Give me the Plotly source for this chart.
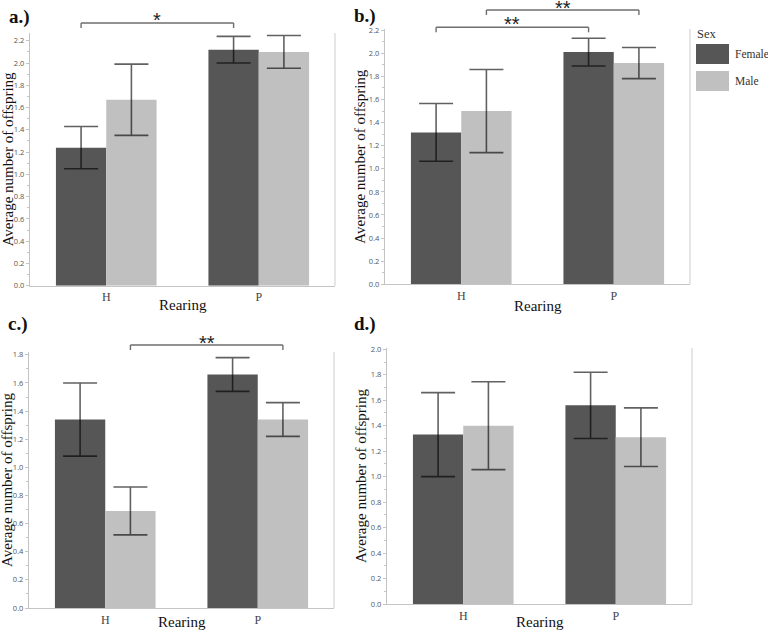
import plotly.graph_objects as go

# ---------------- data ----------------
rearing = ["H", "P"]
sex_labels = ["Female", "Male"]

a_female = [1.24, 2.12]
a_female_err = [0.19, 0.12]
a_male = [1.67, 2.10]
a_male_err = [0.32, 0.147]

b_female = [1.315, 2.01]
b_female_err = [0.25, 0.12]
b_male = [1.50, 1.915]
b_male_err = [0.36, 0.135]

c_female = [1.34, 1.66]
c_female_err = [0.26, 0.12]
c_male = [0.69, 1.34]
c_male_err = [0.17, 0.12]

d_female = [1.33, 1.56]
d_female_err = [0.33, 0.26]
d_male = [1.40, 1.31]
d_male_err = [0.345, 0.23]

panel_names = ["a.)", "b.)", "c.)", "d.)"]
y_title = "Average number of offspring"
x_title = "Rearing"
y_tops = [2.27, 2.21, 1.82, 2.01]
y_tickvals = [
    [0.0, 0.2, 0.4, 0.6, 0.8, 1.0, 1.2, 1.4, 1.6, 1.8, 2.0, 2.2],
    [0.0, 0.2, 0.4, 0.6, 0.8, 1.0, 1.2, 1.4, 1.6, 1.8, 2.0, 2.2],
    [0.0, 0.2, 0.4, 0.6, 0.8, 1.0, 1.2, 1.4, 1.6, 1.8],
    [0.0, 0.2, 0.4, 0.6, 0.8, 1.0, 1.2, 1.4, 1.6, 1.8, 2.0],
]

# ---------------- style ----------------
W, H = 768, 631
FEMALE_C = "#565656"
MALE_C = "#c0c0c0"
ERR_C = "rgba(0,0,0,0.62)"
AXIS_C = "#c4c4c4"
SERIF = "Liberation Serif, Times New Roman, serif"
SANS = "Open Sans, DejaVu Sans, sans-serif"

# plot-area pixel boxes: (left, right, top, bottom)
boxes = [
    (30, 335, 33, 285.7),
    (385, 690, 29, 284.3),
    (29, 334, 352, 608),
    (387, 692, 348, 604),
]
ytitle_x = [8, 360, 7, 361]
xtitle_y = [305, 306, 622, 622]
label_pos = [(7, 17), (352, 16), (6, 324), (352, 324)]

def px_x(p):
    return p / W

def px_y(p):
    return 1 - p / H

series = [
    (a_female, a_female_err, a_male, a_male_err),
    (b_female, b_female_err, b_male, b_male_err),
    (c_female, c_female_err, c_male, c_male_err),
    (d_female, d_female_err, d_male, d_male_err),
]

fig = go.Figure()
layout = dict(
    width=W, height=H,
    margin=dict(l=0, r=0, t=0, b=0, autoexpand=False),
    paper_bgcolor="white", plot_bgcolor="white",
    barmode="group", bargap=0.34, bargroupgap=0,
    showlegend=False,
)
shapes = []
annotations = []

for i, (fv, fe, mv, me) in enumerate(series):
    n = "" if i == 0 else str(i + 1)
    xa, ya = "x" + n, "y" + n
    fig.add_trace(go.Bar(
        x=rearing, y=fv, name=sex_labels[0], xaxis=xa, yaxis=ya,
        marker=dict(color=FEMALE_C, line=dict(width=0)),
        error_y=dict(type="data", array=fe, visible=True, color=ERR_C, thickness=1.6, width=17),
        offsetgroup="f",
    ))
    fig.add_trace(go.Bar(
        x=rearing, y=mv, name=sex_labels[1], xaxis=xa, yaxis=ya,
        marker=dict(color=MALE_C, line=dict(width=0)),
        error_y=dict(type="data", array=me, visible=True, color=ERR_C, thickness=1.6, width=17),
        offsetgroup="m",
    ))
    l, r, t, b = boxes[i]
    layout["xaxis" + n] = dict(
        domain=[px_x(l), px_x(r)], anchor=ya, type="category", automargin=False,
        range=[-0.5, 1.5], showline=True, linecolor=AXIS_C, linewidth=1.2,
        ticks="", showgrid=False, zeroline=False,
        tickfont=dict(family=SERIF, size=12, color="#444"),
    )
    layout["yaxis" + n] = dict(
        domain=[px_y(b), px_y(t)], anchor=xa, range=[0, y_tops[i]], automargin=False,
        tickvals=y_tickvals[i], ticktext=["%.1f" % v for v in y_tickvals[i]],
        showline=True, linecolor=AXIS_C, linewidth=1.2,
        ticks="outside", ticklen=3, tickcolor=AXIS_C, tickwidth=1,
        minor=dict(dtick=0.1, ticks="outside", ticklen=2, tickcolor=AXIS_C),
        showgrid=False, zeroline=False,
        tickfont=dict(family=SANS, size=7.5, color="#555"),
    )
    # right frame line
    shapes.append(dict(type="line", xref=xa + " domain", yref=ya + " domain",
                       x0=1, x1=1, y0=0, y1=1, line=dict(color="#d6d6d6", width=1.2)))
    # axis titles
    annotations.append(dict(text=y_title, xref="paper", yref="paper", textangle=-90,
                            x=px_x(ytitle_x[i]), y=px_y((t + b) / 2), xanchor="center", yanchor="middle",
                            showarrow=False, font=dict(family=SERIF, size=15, color="#111")))
    annotations.append(dict(text=x_title, xref="paper", yref="paper",
                            x=px_x((l + r) / 2), y=px_y(xtitle_y[i]), xanchor="center", yanchor="middle",
                            showarrow=False, font=dict(family=SERIF, size=15, color="#111")))
    # panel label
    lx, ly = label_pos[i]
    annotations.append(dict(text="<b>%s</b>" % panel_names[i], xref="paper", yref="paper",
                            x=px_x(lx), y=px_y(ly), xanchor="left", yanchor="middle",
                            showarrow=False, font=dict(family=SERIF, size=19, color="#111")))

# significance brackets: (panel index, x0 (category pos), x1, line y px, label y px, label)
OFF = 0.165
brackets = [
    (0, 0 - OFF, 1 - OFF, 23, 20, "*"),
    (1, 0 - OFF, 1 - OFF, 27.3, 24, "**"),
    (1, 0 + OFF, 1 + OFF, 10, 8, "**"),
    (2, 0 + OFF, 1 + OFF, 345, 343, "**"),
]
for pi, x0, x1, ypx, lypx, lab in brackets:
    n = "" if pi == 0 else str(pi + 1)
    xa = "x" + n
    col = "#6e6e6e"
    shapes.append(dict(type="line", xref=xa, yref="paper", x0=x0, x1=x1,
                       y0=px_y(ypx), y1=px_y(ypx), line=dict(color=col, width=1.4)))
    for xx in (x0, x1):
        shapes.append(dict(type="line", xref=xa, yref="paper", x0=xx, x1=xx,
                           y0=px_y(ypx), y1=px_y(ypx + 5), line=dict(color=col, width=1.4)))
    annotations.append(dict(text=lab, xref=xa, yref="paper", x=(x0 + x1) / 2, y=px_y(lypx),
                            xanchor="center", yanchor="middle", showarrow=False,
                            font=dict(family="Liberation Sans, Arial, sans-serif", size=20, color="#222")))

# legend (drawn manually)
annotations.append(dict(text="Sex", xref="paper", yref="paper", x=px_x(695), y=px_y(34),
                        xanchor="left", yanchor="middle", showarrow=False,
                        font=dict(family=SERIF, size=12.5, color="#333")))
for k, (lab, col) in enumerate(zip(sex_labels, [FEMALE_C, MALE_C])):
    y0 = 44 + k * 27
    shapes.append(dict(type="rect", xref="paper", yref="paper",
                       x0=px_x(696), x1=px_x(729), y0=px_y(y0), y1=px_y(y0 + 20),
                       fillcolor=col, line=dict(width=0)))
    annotations.append(dict(text=lab, xref="paper", yref="paper", x=px_x(733), y=px_y(y0 + 10),
                            xanchor="left", yanchor="middle", showarrow=False,
                            font=dict(family=SERIF, size=11.5, color="#333")))

layout["shapes"] = shapes
layout["annotations"] = annotations
fig.update_layout(**layout)
fig.write_html(
    "out.html",
    config={"displayModeBar": False},
    post_script="document.body.style.margin='0';document.body.style.overflow='hidden';",
)
